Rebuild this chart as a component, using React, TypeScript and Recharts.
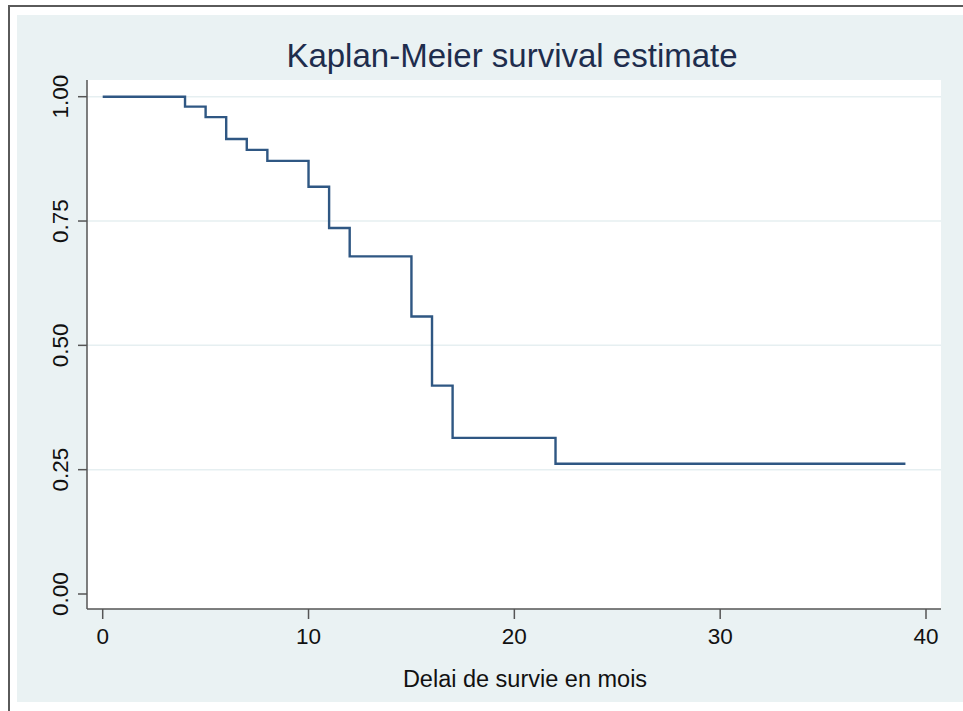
import { LineChart, Line, XAxis, YAxis, CartesianGrid } from 'recharts';

// Kaplan-Meier step points (time in months, survival probability)
const months = [0, 4, 5, 6, 7, 8, 10, 11, 12, 15, 16, 17, 22, 39];
const survival = [1, 0.98, 0.959, 0.915, 0.893, 0.871, 0.819, 0.736, 0.679, 0.558, 0.419, 0.314, 0.262, 0.262];
const xTicks = [0, 10, 20, 30, 40];
const yTicks = [0, 0.25, 0.5, 0.75, 1];
const gridValues = [0.25, 0.5, 0.75, 1];

const chartData = months.map((m, i) => ({ month: m, surv: survival[i] }));

const FONT = '"Liberation Sans", Arial, Helvetica, sans-serif';

function XTick(props: any) {
  const { x, y, payload } = props;
  return (
    <text x={x} y={y + 25} textAnchor="middle" fontSize={22.5} fontFamily={FONT} fill="#111">
      {payload.value}
    </text>
  );
}

function YTick(props: any) {
  const { x, y, payload } = props;
  const tx = x - 10;
  return (
    <text
      x={tx}
      y={y}
      textAnchor="middle"
      fontSize={22.5}
      fontFamily={FONT}
      fill="#111"
      transform={`rotate(-90, ${tx}, ${y})`}
    >
      {Number(payload.value).toFixed(2)}
    </text>
  );
}

function App() {
  return (
    <div style={{ position: 'absolute', left: 0, top: 0, width: 963, height: 711, background: '#fff' }}>
      <div
        style={{
          position: 'absolute',
          left: 8,
          top: 5,
          right: 0,
          bottom: 0,
          borderLeft: '2px solid #5a5a5a',
          borderTop: '2px solid #5a5a5a',
        }}
      />
      <div style={{ position: 'absolute', left: 17, top: 15, width: 946, height: 687, background: '#eaf2f3' }} />
      <div style={{ position: 'absolute', left: 0, top: 0 }}>
        <LineChart width={963} height={711} data={chartData} margin={{ top: 80, right: 22, bottom: 42, left: 0 }}>
          <CartesianGrid
            fill="#ffffff"
            vertical={false}
            stroke="#e6eff1"
            strokeWidth={1.5}
            horizontalValues={gridValues}
          />
          <XAxis
            dataKey="month"
            type="number"
            domain={[0, 40]}
            ticks={xTicks}
            height={60}
            padding={{ left: 15.7, right: 15 }}
            tickSize={10}
            tickMargin={0}
            stroke="#555"
            strokeWidth={1.5}
            tick={<XTick />}
          />
          <YAxis
            type="number"
            domain={[0, 1]}
            ticks={yTicks}
            width={87}
            padding={{ top: 16.7, bottom: 15 }}
            tickSize={9}
            tickMargin={0}
            stroke="#555"
            strokeWidth={1.5}
            tick={<YTick />}
          />
          <Line
            type="stepAfter"
            dataKey="surv"
            stroke="#2f5783"
            strokeWidth={2.4}
            dot={false}
            isAnimationActive={false}
          />
          <text x={512} y={67} textAnchor="middle" fontSize={33} fontFamily={FONT} fill="#1e2d4d">
            Kaplan-Meier survival estimate
          </text>
          <text x={525} y={687} textAnchor="middle" fontSize={23.5} fontFamily={FONT} fill="#111">
            Delai de survie en mois
          </text>
        </LineChart>
      </div>
    </div>
  );
}

export default App;
